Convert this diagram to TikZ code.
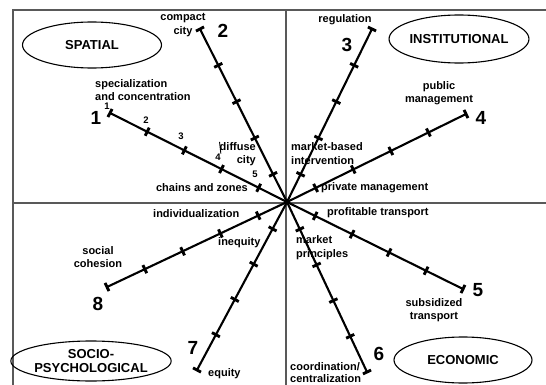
\documentclass[tikz,border=0pt]{standalone}
\usepackage{fontspec}
\setmainfont{Liberation Sans}
\usetikzlibrary{shapes.geometric}
\begin{document}
\begin{tikzpicture}[x=1pt,y=-1pt,
  frame/.style={draw=black!65, line width=1.2pt},
  axis/.style={line width=2.1pt},
  tick/.style={sloped, fill=black, draw=none, inner sep=0pt, minimum width=2.9pt, minimum height=9pt},
  lbl/.style={font=\fontsize{11}{13.5}\selectfont\bfseries, inner sep=0pt},
  big/.style={font=\fontsize{19}{19}\selectfont\bfseries, inner sep=0pt},
  num/.style={font=\fontsize{9.5}{9.5}\selectfont\bfseries, inner sep=0pt},
  sector/.style={draw, ellipse, line width=1.1pt, align=center, inner sep=0pt,
    font=\fontsize{13}{14.5}\selectfont\bfseries}
]
\useasboundingbox (0,0) rectangle (546,385);
\clip (0,0) rectangle (546,385);

% quadrant frame
\coordinate (TL) at (13,10);
\coordinate (TR) at (546,10);
\coordinate (BL) at (13,385);
\coordinate (VT) at (286,10);
\coordinate (VB) at (286,385);
\coordinate (HL) at (13,203);
\coordinate (HR) at (546,203);
\draw[frame] (BL) -- (TL) -- (TR);
\draw[frame] (VT) -- (VB);
\draw[frame] (HL) -- (HR);

% sector ellipses
\node[sector, minimum width=139pt, minimum height=46pt] (spatial) at (92,45) {SPATIAL};
\node[sector, minimum width=138pt, minimum height=48pt] (inst) at (459,39) {INSTITUTIONAL};
\node[sector, minimum width=137pt, minimum height=40pt] (socio) at (91,361) {SOCIO-\\PSYCHOLOGICAL};
\node[sector, minimum width=138pt, minimum height=46pt] (econ) at (463,360) {ECONOMIC};

% the eight scales, meeting in the centre
\coordinate (C) at (287,202);
\coordinate (E1) at (110,113);
\coordinate (E2) at (200,29);
\coordinate (E3) at (372,29);
\coordinate (E4) at (466,114);
\coordinate (E5) at (463,289);
\coordinate (E6) at (367,372);
\coordinate (E7) at (197,370);
\coordinate (E8) at (107,287);
\foreach \i in {1,...,8}
  \draw[axis] (E\i) -- (C)
    node[tick,pos=0]{} node[tick,pos=.21]{} node[tick,pos=.42]{}
    node[tick,pos=.63]{} node[tick,pos=.84]{};

% scale numbers
\node[big] (n1) at (96,118) {1};
\node[big] (n2) at (223,31) {2};
\node[big] (n3) at (347,45) {3};
\node[big] (n4) at (481,118) {4};
\node[big] (n5) at (478,290) {5};
\node[big] (n6) at (379,354) {6};
\node[big] (n7) at (193,348) {7};
\node[big] (n8) at (98,304) {8};

% graduation of scale 1
\node[num] (g1) at (107,106) {1};
\node[num] (g2) at (146,120) {2};
\node[num] (g3) at (181,136) {3};
\node[num] (g4) at (218,157) {4};
\node[num] (g5) at (255,174) {5};

% pole labels
\node[lbl, align=center] (compact) at (183,25) {compact\\city};
\node[lbl, align=left, anchor=west] (spec) at (95,90) {specialization\\and concentration};
\node[lbl, align=right, anchor=east] (diffuse) at (256,154) {diffuse\\city};
\node[lbl, anchor=east] (chains) at (248,188) {chains and zones};
\node[lbl] (regul) at (345,20) {regulation};
\node[lbl, align=center] (public) at (439,93) {public\\management};
\node[lbl, align=left, anchor=west] (mbi) at (291,153.5) {market-based\\intervention};
\node[lbl, anchor=west] (private) at (321,188) {private management};
\node[lbl, anchor=west] (indiv) at (153,214) {individualization};
\node[lbl, align=center] (social) at (98,257) {social\\cohesion};
\node[lbl, anchor=west] (inequity) at (218,243) {inequity};
\node[lbl, anchor=west] (equity) at (208,374) {equity};
\node[lbl, anchor=west] (profit) at (327,213) {profitable transport};
\node[lbl, align=left, anchor=west] (market) at (296,247.5) {market\\principles};
\node[lbl, align=center] (subsid) at (434,310) {subsidized\\transport};
\node[lbl, align=left, anchor=south west, font=\fontsize{11}{12}\selectfont\bfseries]
  (coord) at (290,383) {coordination/\\centralization};

% small hook joining graduation 4 to its label
\draw[line width=0.9pt] (g4.north east) .. controls (221,148) .. (diffuse.north west);
\end{tikzpicture}
\end{document}
